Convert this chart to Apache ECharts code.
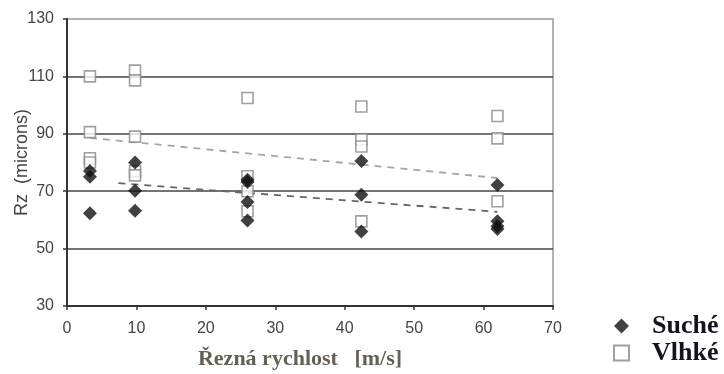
<!DOCTYPE html>
<html><head><meta charset="utf-8">
<script src="https://cdn.jsdelivr.net/npm/echarts@6/dist/echarts.min.js"></script>
<style>html,body{margin:0;padding:0;background:#fff}#c{width:724px;height:374px}</style>
</head><body><div id="c"></div>
<script>
// Suché (dry) measurements: [speed m/s, Rz microns]
const sucheX = [3.3, 3.3, 3.3, 9.8, 9.8, 9.8, 26, 26, 26, 26, 42.4, 42.4, 42.4, 62, 62, 62, 62];
const sucheY = [77, 75, 62.3, 80, 70.2, 63.2, 74, 73.2, 66.2, 59.8, 80.5, 68.8, 56, 72.2, 59.5, 57.8, 56.8];
// Vlhké (wet) measurements
const vlhkeX = [3.3, 3.3, 3.3, 3.3, 9.8, 9.8, 9.8, 9.8, 9.8, 26, 26, 26, 26, 42.4, 42.4, 42.4, 42.4, 62, 62, 62];
const vlhkeY = [110, 90.6, 81.5, 80, 112, 108.6, 89, 77, 75.5, 102.5, 75.2, 70, 63, 99.5, 88, 85.6, 59.5, 96.2, 88.4, 66.5];
// Trend lines (endpoints)
const trendSucheX = [7.4, 62];
const trendSucheY = [72.8, 62.8];
const trendVlhkeX = [3.3, 62];
const trendVlhkeY = [88.6, 74.6];
const xTicks = [0, 70, 10];
const yTicks = [30, 130, 20];

const zip = (a, b) => a.map((v, i) => [v, b[i]]);
const chart = echarts.init(document.getElementById('c'));
chart.setOption({
  animation: false,
  grid: {left: 67, right: 171, top: 19, bottom: 68, outerBoundsMode: 'none', containLabel: false,
         show: true, borderColor: '#9a9a9a', borderWidth: 1.5, backgroundColor: 'transparent'},
  xAxis: {
    type: 'value', min: xTicks[0], max: xTicks[1], interval: xTicks[2],
    axisLine: {lineStyle: {color: '#333', width: 2}},
    axisTick: {show: true, length: 4, lineStyle: {color: '#333', width: 1.5}},
    axisLabel: {color: '#444', fontFamily: 'Liberation Sans, Arial', fontSize: 16, margin: 15},
    splitLine: {show: false},
    name: 'Řezná rychlost   [m/s]', nameLocation: 'middle', nameGap: 42, nameMoveOverlap: false,
    nameTextStyle: {fontFamily: 'Liberation Serif', fontWeight: 'bold', fontSize: 22, color: '#665f55', padding: [0,0,0,-20]}
  },
  yAxis: {
    type: 'value', min: yTicks[0], max: yTicks[1], interval: yTicks[2],
    axisLine: {show: true, lineStyle: {color: '#333', width: 2}},
    axisTick: {show: true, length: 4, lineStyle: {color: '#333', width: 1.5}},
    axisLabel: {color: '#444', fontFamily: 'Liberation Sans, Arial', fontSize: 16, margin: 13},
    splitLine: {show: true, showMaxLine: false, showMinLine: false, lineStyle: {color: '#444', width: 1.5}},
    name: 'Rz  (microns)', nameLocation: 'middle', nameGap: 36, nameMoveOverlap: false,
    nameTextStyle: {fontFamily: 'Liberation Sans, Arial', fontSize: 18, color: '#444'}
  },
  legend: {
    orient: 'vertical', left: 613, top: 313, height: 61, width: 111, itemGap: 1, padding: 0,
    itemWidth: 15, itemHeight: 15,
    data: ['Suché', 'Vlhké'],
    textStyle: {fontFamily: 'Liberation Serif', fontWeight: 'bold', fontSize: 26, lineHeight: 26, color: '#141420', padding: [0, 0, 0, 18]}
  },
  series: [
    {name: 'trendVlhke', type: 'line', data: zip(trendVlhkeX, trendVlhkeY), symbol: 'none', silent: true,
     lineStyle: {color: '#a5a5a5', width: 1.8, type: [7, 6]}, z: 1},
    {name: 'trendSuche', type: 'line', data: zip(trendSucheX, trendSucheY), symbol: 'none', silent: true,
     lineStyle: {color: '#666', width: 1.8, type: [7, 6]}, z: 1},
    {name: 'Vlhké', type: 'scatter', data: zip(vlhkeX, vlhkeY), symbol: 'rect', symbolSize: 11,
     itemStyle: {color: '#fff', borderColor: '#888', borderWidth: 1.6}, z: 2},
    {name: 'Suché', type: 'scatter', data: zip(sucheX, sucheY), symbol: 'diamond', symbolSize: [14, 14],
     itemStyle: {color: '#111'}, z: 3}
  ]
});
</script></body></html>
